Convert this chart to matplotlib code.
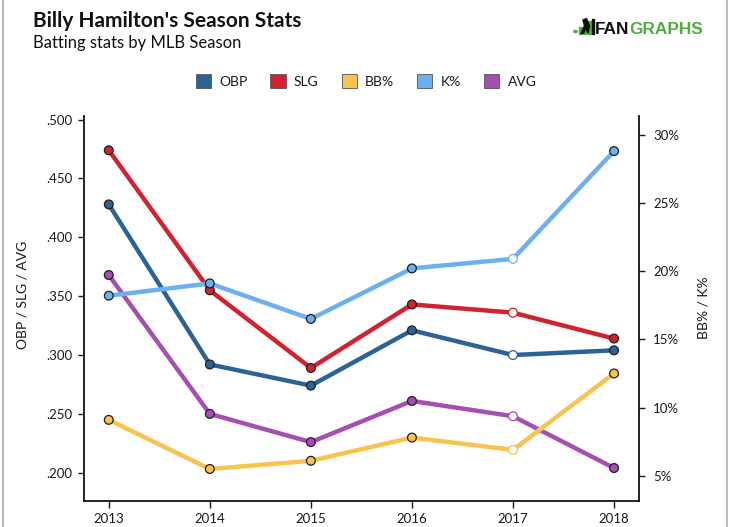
import matplotlib
matplotlib.use("Agg")
import matplotlib.pyplot as plt
from matplotlib.patches import Patch, Rectangle, Circle, Polygon
from matplotlib.lines import Line2D
from matplotlib.ticker import FuncFormatter

# Season data
seasons = [2013, 2014, 2015, 2016, 2017, 2018]
obp = [.428, .292, .274, .321, .300, .304]
slg = [.474, .355, .289, .343, .336, .314]
avg = [.368, .250, .226, .261, .248, .204]
bb_pct = [9.1, 5.5, 6.1, 7.8, 6.9, 12.5]
k_pct = [18.2, 19.1, 16.5, 20.2, 20.9, 28.8]
highlight_season = 2017

left_ticks = [.200, .250, .300, .350, .400, .450, .500]
right_ticks = [5, 10, 15, 20, 25, 30]

colors = {
    "OBP": "#2c6397",
    "SLG": "#d2222f",
    "BB%": "#f8c34f",
    "K%": "#6cb0f2",
    "AVG": "#a64fb2",
}
legend_order = ["OBP", "SLG", "BB%", "K%", "AVG"]

plt.rcParams["font.family"] = ["Lato", "DejaVu Sans"]
text_color = "#1a1a1a"

fig = plt.figure(figsize=(7.3, 5.27), dpi=100)
W, H = 730, 527
ax = fig.add_axes([83.5 / W, 1 - 500.5 / H, (639.3 - 83.5) / W, (500.5 - 116) / H])
ax2 = ax.twinx()


def draw_series(axis, values, color):
    axis.plot(seasons, values, color=color, lw=3.2, solid_capstyle="round",
              solid_joinstyle="round", zorder=2)
    face = ["white" if s == highlight_season else color for s in seasons]
    edge = [color if s == highlight_season else "#1f1f1f" for s in seasons]
    axis.scatter(seasons, values, s=40, c=face, edgecolors=edge,
                 linewidths=0.9, zorder=3)


draw_series(ax, avg, colors["AVG"])
draw_series(ax, obp, colors["OBP"])
draw_series(ax, slg, colors["SLG"])
draw_series(ax2, bb_pct, colors["BB%"])
draw_series(ax2, k_pct, colors["K%"])

ax.set_xlim(2012.75, 2018.25)
ax.set_ylim(0.1764, 0.5031)
ax2.set_ylim(3.19, 31.37)

ax.set_xticks(seasons)
ax.set_yticks(left_ticks)
ax.yaxis.set_major_formatter(FuncFormatter(lambda v, p: f"{v:.3f}"[1:]))
ax2.set_yticks(right_ticks)
ax2.yaxis.set_major_formatter(FuncFormatter(lambda v, p: f"{v:.0f}%"))

for a in (ax, ax2):
    a.spines["top"].set_visible(False)
    for side in ("left", "right", "bottom"):
        a.spines[side].set_linewidth(1.3)
        a.spines[side].set_color("#111111")
    a.set_facecolor("none")
ax.spines["right"].set_visible(False)
ax2.spines["left"].set_visible(False)
ax2.spines["bottom"].set_visible(False)

ax.tick_params(axis="y", length=4, width=1, pad=4, labelsize=9.5,
               colors=text_color)
ax.tick_params(axis="x", length=5, width=1, pad=4, labelsize=9.5,
               colors=text_color)
ax2.tick_params(axis="y", length=4, width=1, pad=6, labelsize=9.5,
                colors=text_color)

fig.text(23 / W, 1 - 295 / H, "OBP / SLG / AVG", rotation=90, ha="center",
         va="center", fontsize=10, color=text_color)
fig.text(703 / W, 1 - 308 / H, "BB% / K%", rotation=90, ha="center",
         va="center", fontsize=10, color=text_color)

# Titles
fig.text(33 / W, 1 - 27 / H, "Billy Hamilton's Season Stats", fontsize=15,
         fontweight="bold", color="#111111", va="baseline")
fig.text(33 / W, 1 - 48 / H, "Batting stats by MLB Season", fontsize=12,
         color="#111111", va="baseline")

# Legend
handles = [Patch(facecolor=colors[k], edgecolor="#555555", linewidth=0.6,
                 label=k) for k in legend_order]
fig.legend(handles=handles, loc="center", bbox_to_anchor=(366 / W, 1 - 81 / H),
           ncol=5, frameon=False, fontsize=10, handlelength=1.1,
           handleheight=1.1, handletextpad=0.6, columnspacing=1.65,
           labelcolor=text_color)

# FanGraphs logo
green = "#4fae3f"
fan = fig.text(595 / W, 1 - 33.5 / H, "FAN", fontsize=12.4, fontweight="bold",
               family="Liberation Sans", color="#111111", va="baseline")
fig.canvas.draw()
fan_box = fan.get_window_extent()
fig.text(fan_box.x1 / W, 1 - 33.5 / H, "GRAPHS", fontsize=12.4,
         fontweight="bold", family="Liberation Sans", color=green,
         va="baseline")
fig.add_artist(Circle((575.5 / W, 1 - 31.5 / H), 1.6 / W, color=green,
                      transform=fig.transFigure))
for bx, btop in [(579, 27), (583.5, 24), (588, 21)]:
    fig.add_artist(Rectangle((bx / W, 1 - 33.5 / H), 2.6 / W,
                             (33.5 - btop) / H, color=green,
                             transform=fig.transFigure))
fig.add_artist(Polygon([(581 / W, 1 - 33.5 / H), (584.5 / W, 1 - 26 / H),
                        (583 / W, 1 - 20 / H), (586.5 / W, 1 - 18.5 / H),
                        (589.5 / W, 1 - 26 / H), (588 / W, 1 - 33.5 / H),
                        (586 / W, 1 - 28 / H), (583.5 / W, 1 - 33.5 / H)],
                       closed=True, color="#111111", transform=fig.transFigure))
fig.add_artist(Rectangle((592 / W, 1 - 33.5 / H), 1.6 / W, 15 / H,
                         color="#111111", transform=fig.transFigure))

# Page frame
for fx in (2.5, 727):
    fig.add_artist(Line2D([fx / W, fx / W], [0, 1], color="#bbbbbb", lw=1.5,
                          transform=fig.transFigure))

fig.savefig("out.png", dpi=100)
